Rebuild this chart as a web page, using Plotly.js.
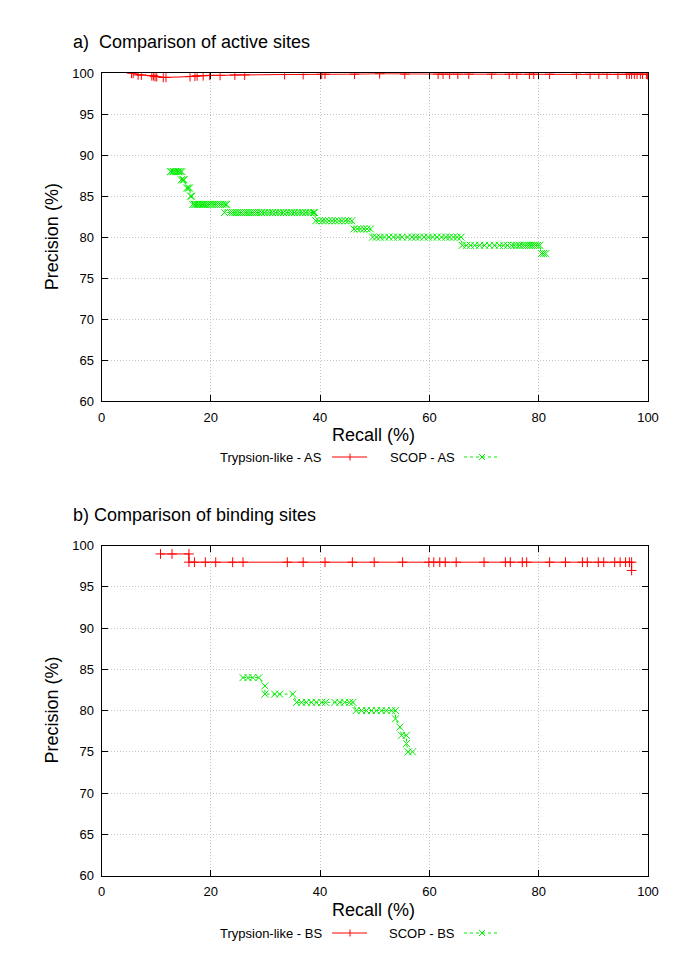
<!DOCTYPE html>
<html>
<head>
<meta charset="utf-8">
<script src="https://cdn.plot.ly/plotly-3.0.1.min.js"></script>
<style>html,body{margin:0;padding:0;background:#fff;}#chart{width:685px;height:969px;}</style>
</head>
<body>
<div id="chart"></div>
<script>
// ---------- DATA ----------
const trypAsRecall = [5.5,5.8,6.7,7.3,9.2,9.5,9.8,10.1,11.3,11.8,16.2,17.1,17.5,18.6,19.8,21.7,24.4,26.2,33.5,36.9,40.3,40.9,46.3,50.9,55.5,61.6,62.5,63.7,65.2,67.2,71.4,74.6,76.0,78.3,79.1,82.0,86.9,89.4,91.0,92.5,94.5,96.1,96.6,97.0,97.5,98.0,98.6,99.0,99.7,99.9];
const trypAsPrecision = [100,100,99.8,99.8,99.7,99.7,99.6,99.6,99.5,99.5,99.6,99.65,99.7,99.7,99.75,99.75,99.8,99.8,99.85,99.85,99.9,99.9,99.9,99.95,99.9,99.9,99.9,99.9,99.9,99.9,99.9,99.9,99.9,99.9,99.9,99.9,99.9,99.9,99.9,99.9,99.9,99.9,99.9,99.9,99.9,99.9,99.9,99.9,99.9,99.85];

const scopAsRecall = [
  12.6,12.9,13.2,13.5,13.8,14.1,14.4,14.7,
  14.6,14.9,15.1,
  15.6,15.9,16.1,
  16.3,16.5,
  16.7,17.0,17.3,17.6,17.9,18.2,18.5,18.8,19.1,19.4,19.8,20.2,20.6,21.0,21.4,21.8,22.2,22.6,22.9,
  22.5,23.6,24.0,24.4,24.8,25.2,25.6,26.0,26.4,26.8,27.2,27.6,28.0,28.4,28.8,29.3,29.8,30.3,30.8,31.3,31.8,32.3,32.8,33.3,33.8,34.3,34.8,35.3,35.8,36.3,36.8,37.3,37.8,38.3,38.8,39.0,
  39.2,39.8,40.4,41.0,41.6,42.2,42.8,43.4,44.0,44.6,45.2,45.8,
  46.2,46.8,47.4,48.0,48.6,49.2,
  49.6,50.3,51.0,51.8,52.6,53.4,54.2,55.0,56.0,56.8,57.5,58.2,59.0,59.8,60.6,61.4,62.2,63.0,63.7,64.4,65.1,65.8,
  66.0,66.8,67.5,68.3,69.2,70.1,71.0,71.9,72.8,73.6,74.3,75.0,75.5,76.0,76.5,77.0,77.4,77.8,78.2,78.6,79.0,79.4,79.8,80.2,
  80.5,80.9,81.3];
const scopAsPrecision = [
  88,88,88,88,88,88,88,88,
  87,87,87,
  86,86,86,
  85,85,
  84,84,84,84,84,84,84,84,84,84,84,84,84,84,84,84,84,84,84,
  83,83,83,83,83,83,83,83,83,83,83,83,83,83,83,83,83,83,83,83,83,83,83,83,83,83,83,83,83,83,83,83,83,83,83,83,
  82,82,82,82,82,82,82,82,82,82,82,82,
  81,81,81,81,81,81,
  80,80,80,80,80,80,80,80,80,80,80,80,80,80,80,80,80,80,80,80,80,80,
  79,79,79,79,79,79,79,79,79,79,79,79,79,79,79,79,79,79,79,79,79,79,79,79,
  78,78,78];

const trypBsRecall = [10.8,12.9,16.0,16.0,17.0,19.0,20.9,24.0,25.9,34.0,36.9,40.9,45.9,49.9,55.1,59.9,60.8,61.9,62.9,64.9,70.0,73.9,74.8,77.0,77.8,82.0,84.9,88.0,88.9,90.9,91.9,93.9,94.9,95.9,96.6,97.0,97.0];
const trypBsPrecision = [99,99,99,98,98,98,98,98,98,98,98,98,98,98,98,98,98,98,98,98,98,98,98,98,98,98,98,98,98,98,98,98,98,98,98,98,97];

const scopBsRecall = [25.9,26.8,27.7,28.8,29.9,29.9,31.7,32.6,35.0,35.7,36.6,37.5,38.4,39.3,40.3,41.0,42.7,43.6,44.5,45.4,46.0,46.6,47.6,48.5,49.4,50.3,51.2,52.1,53.1,53.8,53.8,54.6,54.9,55.8,55.8,56.1,56.9];
const scopBsPrecision = [84,84,84,84,83,82,82,82,82,81,81,81,81,81,81,81,81,81,81,81,81,80,80,80,80,80,80,80,80,80,79,78,77,77,76,75,75];

const xTicks = [0,20,40,60,80,100];
const yTicks = [60,65,70,75,80,85,90,95,100];
const titles = ["a)  Comparison of active sites", "b) Comparison of binding sites"];
const legendNames = [["Trypsion-like - AS","SCOP - AS"],["Trypsion-like - BS","SCOP - BS"]];
const xLabel = "Recall (%)";
const yLabel = "Precision (%)";

// ---------- STYLE / LAYOUT ----------
const W = 685, H = 969;
const px = x => x / W;
const py = y => 1 - y / H;
const RED = '#ff0000', GREEN = '#00ee00';
const FONT = 'Liberation Sans, Arial, sans-serif';

function redTrace(x, y, xa, ya) {
  return {x, y, xaxis: xa, yaxis: ya, type: 'scatter', mode: 'lines+markers',
    line: {color: RED, width: 1}, marker: {symbol: 'cross-thin', size: 7, color: RED, line: {color: RED, width: 1}},
    showlegend: false, hoverinfo: 'skip'};
}
function greenTrace(x, y, xa, ya) {
  return {x, y, xaxis: xa, yaxis: ya, type: 'scatter', mode: 'lines+markers',
    line: {color: GREEN, width: 1, dash: '3px,3px'}, marker: {symbol: 'x-thin', size: 7, color: GREEN, line: {color: GREEN, width: 1}},
    showlegend: false, hoverinfo: 'skip'};
}

const data = [
  redTrace(trypAsRecall, trypAsPrecision, 'x', 'y'),
  greenTrace(scopAsRecall, scopAsPrecision, 'x', 'y'),
  redTrace(trypBsRecall, trypBsPrecision, 'x2', 'y2'),
  greenTrace(scopBsRecall, scopBsPrecision, 'x2', 'y2')
];

const xDom = [px(101.5), px(648)];
const panels = [
  {top: 73.3, bottom: 401},
  {top: 545.7, bottom: 875.5}
];

function xAxis(anchor) {
  return {domain: xDom, anchor, range: [0, 100], tickvals: xTicks, ticktext: xTicks.map(String),
    showline: true, linecolor: '#000', linewidth: 1, mirror: 'ticks', ticks: 'inside', ticklen: 6, tickcolor: '#000',
    showgrid: true, gridcolor: '#c4c4c4', griddash: '1px,2px', gridwidth: 1, zeroline: false,
    ticklabelstandoff: 4,
    tickfont: {family: FONT, size: 13, color: '#000'}, fixedrange: true};
}
function yAxis(anchor, p) {
  return {domain: [py(p.bottom), py(p.top)], anchor, range: [60, 100], tickvals: yTicks, ticktext: yTicks.map(String),
    showline: true, linecolor: '#000', linewidth: 1, mirror: 'ticks', ticks: 'inside', ticklen: 6, tickcolor: '#000',
    showgrid: true, gridcolor: '#c4c4c4', griddash: '1px,2px', gridwidth: 1, zeroline: false,
    ticklabelstandoff: 4,
    tickfont: {family: FONT, size: 13, color: '#000'}, fixedrange: true};
}

const annotations = [];
const shapes = [];
const legendY = [457, 933];
panels.forEach((p, i) => {
  annotations.push({xref: 'paper', yref: 'paper', x: px(71), y: py((p.top) - 31), xanchor: 'left', yanchor: 'middle',
    text: titles[i], showarrow: false, font: {family: FONT, size: 18, color: '#000'}});
  annotations.push({xref: 'paper', yref: 'paper', x: px(374), y: py(p.bottom + 34), xanchor: 'center', yanchor: 'middle',
    text: xLabel, showarrow: false, font: {family: FONT, size: 18, color: '#000'}});
  annotations.push({xref: 'paper', yref: 'paper', x: px(52), y: py((p.top + p.bottom) / 2), xanchor: 'center', yanchor: 'middle',
    text: yLabel, textangle: -90, showarrow: false, font: {family: FONT, size: 18, color: '#000'}});
  const ly = legendY[i];
  annotations.push({xref: 'paper', yref: 'paper', x: px(324), y: py(ly), xanchor: 'right', yanchor: 'middle',
    text: legendNames[i][0], showarrow: false, font: {family: FONT, size: 13, color: '#000'}});
  annotations.push({xref: 'paper', yref: 'paper', x: px(457), y: py(ly), xanchor: 'right', yanchor: 'middle',
    text: legendNames[i][1], showarrow: false, font: {family: FONT, size: 13, color: '#000'}});
  // red legend key
  shapes.push({type: 'line', xref: 'paper', yref: 'paper', x0: px(332), x1: px(367), y0: py(ly), y1: py(ly), line: {color: RED, width: 1}});
  shapes.push({type: 'line', xref: 'paper', yref: 'paper', x0: px(350), x1: px(350), y0: py(ly - 3.5), y1: py(ly + 3.5), line: {color: RED, width: 1}});
  // green legend key
  shapes.push({type: 'line', xref: 'paper', yref: 'paper', x0: px(464), x1: px(500), y0: py(ly), y1: py(ly), line: {color: GREEN, width: 1, dash: '3px,3px'}});
  shapes.push({type: 'line', xref: 'paper', yref: 'paper', x0: px(479), x1: px(485), y0: py(ly - 3), y1: py(ly + 3), line: {color: GREEN, width: 1}});
  shapes.push({type: 'line', xref: 'paper', yref: 'paper', x0: px(479), x1: px(485), y0: py(ly + 3), y1: py(ly - 3), line: {color: GREEN, width: 1}});
});

const layout = {
  width: W, height: H, margin: {l: 0, r: 0, t: 0, b: 0},
  paper_bgcolor: '#fff', plot_bgcolor: '#fff', showlegend: false,
  font: {family: FONT, color: '#000'},
  xaxis: xAxis('y'), yaxis: yAxis('x', panels[0]),
  xaxis2: xAxis('y2'), yaxis2: yAxis('x2', panels[1]),
  annotations, shapes
};

Plotly.newPlot('chart', data, layout, {staticPlot: true, displayModeBar: false});
</script>
</body>
</html>
